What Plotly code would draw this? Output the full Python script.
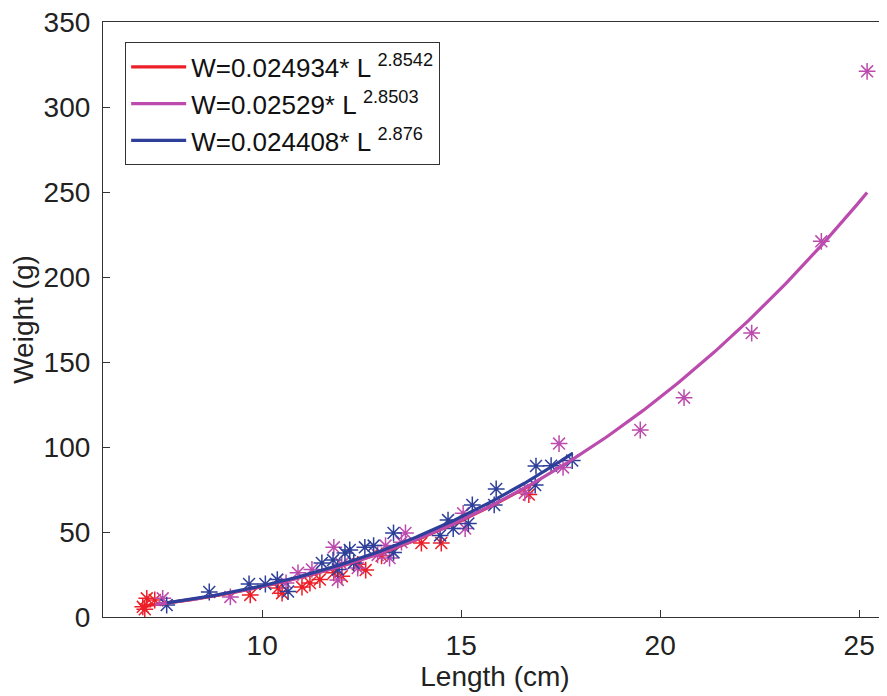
import numpy as np
import plotly.graph_objects as go

# ---- data ----
red_len = [7.0, 7.05, 7.1, 7.3, 9.7, 10.4, 10.5, 11.0, 11.2, 11.45, 11.8, 12.0, 12.4, 12.6, 13.0, 14.0, 14.5, 16.7]
red_wt = [6, 4.5, 11, 10, 13, 17, 14, 17.6, 20, 22, 26, 24, 31, 27.6, 36, 43.5, 43.5, 72]

mag_len = [7.5, 9.2, 10.6, 10.9, 11.25, 11.8, 11.9, 12.0, 12.4, 12.9, 13.1, 13.2, 13.5, 13.6, 15.05, 15.1,
           16.6, 17.46, 17.56, 19.5, 20.6, 22.3, 24.05, 25.2]
mag_wt = [11, 11.8, 20, 26, 28, 41, 21.8, 31, 28.8, 36.5, 42, 34.7, 44, 49.4, 61, 52,
          73, 102, 88, 110, 129, 167, 221, 321]

blue_len = [7.6, 8.67, 9.67, 10.08, 10.38, 10.65, 11.5, 11.78, 11.9, 12.08, 12.2, 12.3, 12.58, 12.8, 13.3, 13.3,
            14.47, 14.67, 14.8, 15.18, 15.28, 15.83, 15.88, 16.86, 16.88, 17.26, 17.79]
blue_wt = [7, 14.7, 19.4, 19.4, 22, 15, 31.8, 33.5, 28, 37.6, 39.4, 31.8, 41, 42, 38, 49.4,
           48, 57, 52, 55, 65.9, 65.9, 75.3, 77.6, 88.8, 89, 92]

# fitted power-law parameters (from legend) and fitted length ranges
fit_a = [0.024934, 0.02529, 0.024408]
fit_b = [2.8542, 2.8503, 2.876]
fit_lo = [7.0, 7.3, 7.6]
fit_hi = [16.8, 25.2, 17.8]
fit_names = ["W=0.024934* L <sup>2.8542</sup>", "W=0.02529* L <sup>2.8503</sup>", "W=0.024408* L <sup>2.876</sup>"]

x_ticks = [10, 15, 20, 25]
y_ticks = [0, 50, 100, 150, 200, 250, 300, 350]

colors = ["#EC1F27", "#BC4BAE", "#2E3F99"]
pts = [(red_len, red_wt), (mag_len, mag_wt), (blue_len, blue_wt)]

fig = go.Figure()
for i in range(3):
    fig.add_trace(go.Scatter(
        x=pts[i][0], y=pts[i][1], mode="markers", showlegend=False,
        marker=dict(symbol="asterisk-open", size=14, color=colors[i],
                    line=dict(color=colors[i], width=1.5))))
for i in range(3):
    xs = np.linspace(fit_lo[i], fit_hi[i], 200)
    ys = fit_a[i] * xs ** fit_b[i]
    fig.add_trace(go.Scatter(x=xs, y=ys, mode="lines", name=fit_names[i],
                             line=dict(color=colors[i], width=3.2)))

axis_col = "#333333"
fig.update_layout(
    width=879, height=688,
    margin=dict(l=95, r=0, t=14, b=79),
    paper_bgcolor="white", plot_bgcolor="white",
    font=dict(family="Liberation Sans, Arial, sans-serif", color="#222222"),
    xaxis=dict(range=[6, 25.7], tickvals=x_ticks, ticks="inside", ticklen=7,
               tickcolor=axis_col, showgrid=False, zeroline=False, showline=True,
               linecolor=axis_col, linewidth=1.2, mirror=True, automargin=False,
               ticklabelstandoff=3, ticklabeloverflow="allow",
               tickfont=dict(size=28),
               title=dict(text="Length (cm)", standoff=5, font=dict(size=28))),
    yaxis=dict(range=[0, 350], tickvals=y_ticks, ticks="inside", ticklen=7,
               tickcolor=axis_col, showgrid=False, zeroline=False, showline=True,
               linecolor=axis_col, linewidth=1.2, mirror=False, automargin=False,
               ticklabelstandoff=6, ticklabeloverflow="allow",
               tickfont=dict(size=28), title=dict(text="Weight (g)", standoff=4, font=dict(size=28))),
    legend=dict(x=0.028, y=0.966, xanchor="left", yanchor="top",
                bgcolor="white", bordercolor="#333333", borderwidth=1.2,
                font=dict(size=26, color="#111111"), itemwidth=55, tracegroupgap=0),
)
fig.write_html("out.html")
